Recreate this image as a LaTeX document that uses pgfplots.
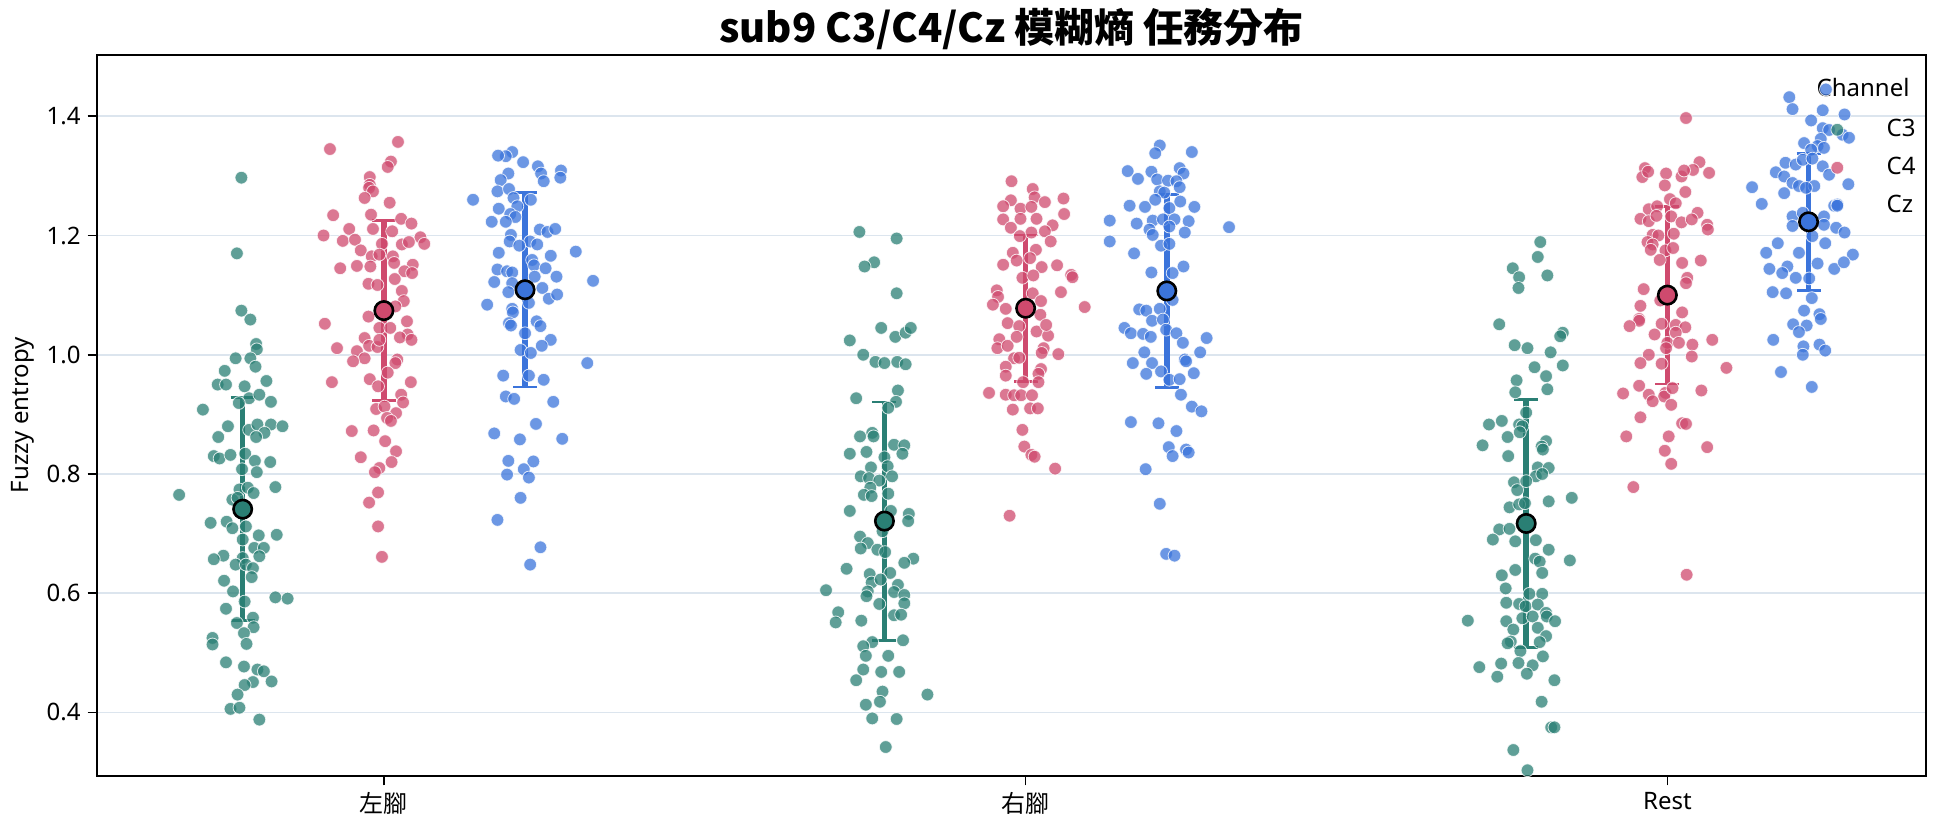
\documentclass[border=0pt]{standalone}
\usepackage{fontspec}
\setmainfont{Noto Sans}
\newfontfamily\cjk{Noto Sans CJK TC}
\usepackage{pgfplots}
\usepackage{pgfplotstable}
\pgfplotsset{compat=1.18}
\definecolor{cthree}{HTML}{2A7F74}
\definecolor{cfour}{HTML}{CF4A6E}
\definecolor{czz}{HTML}{3B74DB}
\definecolor{gridc}{HTML}{DCE5EE}

\pgfplotstableread{
x y
-0.222 1.297
-0.229 1.170
-0.222 1.074
-0.208 1.059
-0.199 1.018
-0.198 1.009
-0.231 0.994
-0.208 0.994
-0.200 0.980
-0.248 0.973
-0.183 0.956
-0.259 0.950
-0.246 0.950
-0.217 0.947
-0.210 0.927
-0.282 0.908
-0.194 0.933
-0.176 0.921
-0.226 0.919
-0.243 0.880
-0.210 0.874
-0.197 0.883
-0.176 0.883
-0.158 0.880
-0.186 0.869
-0.199 0.862
-0.258 0.862
-0.265 0.830
-0.256 0.826
-0.239 0.832
-0.216 0.834
-0.201 0.822
-0.177 0.820
-0.221 0.808
-0.198 0.803
-0.319 0.765
-0.169 0.778
-0.225 0.774
-0.212 0.777
-0.203 0.768
-0.236 0.757
-0.228 0.760
-0.270 0.718
-0.245 0.720
-0.236 0.709
-0.215 0.712
-0.195 0.697
-0.167 0.698
-0.220 0.690
-0.202 0.676
-0.187 0.676
-0.250 0.663
-0.265 0.657
-0.220 0.659
-0.231 0.648
-0.215 0.648
-0.194 0.662
-0.204 0.642
-0.249 0.621
-0.235 0.603
-0.206 0.627
-0.169 0.593
-0.150 0.591
-0.217 0.586
-0.246 0.574
-0.204 0.559
-0.229 0.550
-0.203 0.543
-0.218 0.533
-0.267 0.525
-0.267 0.514
-0.214 0.515
-0.246 0.484
-0.218 0.477
-0.197 0.472
-0.187 0.469
-0.175 0.452
-0.204 0.451
-0.217 0.446
-0.228 0.430
-0.239 0.406
-0.225 0.408
-0.194 0.388
0.741 1.206
0.799 1.195
0.764 1.155
0.749 1.148
0.799 1.103
0.775 1.045
0.797 1.030
0.813 1.037
0.821 1.045
0.726 1.024
0.747 1.000
0.766 0.988
0.780 0.986
0.800 0.988
0.813 0.984
0.736 0.927
0.801 0.940
0.798 0.921
0.786 0.911
0.761 0.869
0.742 0.863
0.763 0.863
0.795 0.849
0.811 0.848
0.726 0.834
0.752 0.837
0.808 0.834
0.780 0.828
0.759 0.811
0.785 0.813
0.743 0.796
0.756 0.793
0.772 0.789
0.792 0.796
0.758 0.777
0.748 0.765
0.760 0.763
0.786 0.767
0.726 0.738
0.790 0.738
0.818 0.733
0.817 0.721
0.777 0.704
0.742 0.695
0.754 0.684
0.743 0.675
0.769 0.673
0.781 0.669
0.825 0.658
0.811 0.651
0.721 0.641
0.757 0.632
0.789 0.634
0.760 0.618
0.774 0.623
0.801 0.614
0.689 0.605
0.754 0.603
0.752 0.595
0.795 0.602
0.811 0.597
0.811 0.583
0.772 0.582
0.708 0.568
0.704 0.551
0.744 0.554
0.795 0.563
0.806 0.564
0.761 0.518
0.809 0.521
0.747 0.511
0.751 0.495
0.786 0.495
0.747 0.472
0.775 0.468
0.803 0.468
0.736 0.454
0.777 0.435
0.847 0.430
0.773 0.418
0.751 0.413
0.761 0.390
0.799 0.389
0.782 0.342
1.802 1.189
1.798 1.164
1.759 1.145
1.769 1.130
1.768 1.112
1.813 1.133
1.738 1.051
1.837 1.037
1.833 1.031
1.762 1.016
1.782 1.011
1.818 1.004
1.793 0.979
1.837 0.982
1.765 0.957
1.811 0.964
1.813 0.942
1.763 0.937
1.780 0.903
1.722 0.883
1.742 0.889
1.769 0.883
1.774 0.880
1.770 0.870
1.712 0.848
1.751 0.862
1.811 0.855
1.804 0.846
1.806 0.841
1.752 0.830
1.798 0.811
1.815 0.810
1.795 0.796
1.805 0.800
1.761 0.786
1.766 0.773
1.780 0.788
1.851 0.760
1.815 0.754
1.754 0.744
1.769 0.749
1.778 0.751
1.738 0.707
1.754 0.708
1.728 0.690
1.763 0.687
1.795 0.689
1.815 0.673
1.794 0.658
1.801 0.653
1.848 0.655
1.763 0.639
1.742 0.630
1.805 0.634
1.748 0.608
1.749 0.584
1.785 0.599
1.805 0.599
1.769 0.582
1.779 0.578
1.798 0.581
1.811 0.567
1.812 0.561
1.689 0.554
1.749 0.553
1.774 0.558
1.790 0.561
1.825 0.553
1.760 0.539
1.798 0.542
1.811 0.528
1.756 0.519
1.751 0.516
1.801 0.518
1.771 0.503
1.806 0.494
1.741 0.482
1.768 0.483
1.790 0.479
1.707 0.476
1.781 0.465
1.735 0.460
1.824 0.454
1.804 0.418
1.819 0.375
1.824 0.375
1.760 0.337
1.782 0.303
}\dataCthree

\pgfplotstableread{
x y
0.022 1.357
-0.084 1.345
0.011 1.324
0.006 1.315
-0.022 1.298
-0.022 1.285
-0.023 1.280
-0.017 1.274
-0.030 1.263
0.009 1.255
-0.079 1.234
-0.020 1.235
0.027 1.228
0.043 1.220
-0.054 1.211
-0.017 1.211
0.013 1.207
-0.094 1.200
-0.064 1.191
-0.045 1.193
0.057 1.197
0.063 1.186
0.028 1.185
0.039 1.189
-0.003 1.186
-0.036 1.175
-0.019 1.165
-0.007 1.168
0.014 1.165
0.016 1.154
-0.068 1.145
-0.042 1.149
-0.021 1.148
0.045 1.151
0.032 1.140
0.044 1.137
0.017 1.127
-0.024 1.119
-0.010 1.117
0.028 1.107
0.031 1.090
0.018 1.081
-0.024 1.064
-0.092 1.052
0.036 1.056
-0.007 1.045
0.010 1.045
0.037 1.034
0.025 1.029
0.043 1.025
-0.030 1.028
-0.023 1.015
-0.010 1.013
-0.007 1.025
-0.073 1.011
-0.042 1.006
-0.030 0.994
-0.048 0.989
0.021 0.992
0.018 0.986
0.006 0.970
-0.022 0.959
-0.081 0.954
-0.009 0.947
0.042 0.954
0.027 0.933
0.030 0.920
-0.012 0.909
0.001 0.913
0.019 0.902
0.005 0.894
0.011 0.889
-0.050 0.872
-0.016 0.873
0.002 0.855
0.019 0.838
-0.036 0.828
0.012 0.820
-0.007 0.810
-0.014 0.803
-0.009 0.769
-0.023 0.752
-0.009 0.712
-0.003 0.661
0.978 1.291
1.011 1.278
0.977 1.259
0.965 1.249
1.014 1.264
1.030 1.256
1.059 1.262
1.060 1.236
0.992 1.245
1.009 1.248
0.965 1.227
0.992 1.228
1.017 1.228
1.042 1.217
0.977 1.213
1.009 1.205
1.030 1.207
0.991 1.199
1.039 1.190
1.016 1.176
0.980 1.171
0.986 1.158
1.007 1.162
0.965 1.151
1.025 1.147
1.049 1.150
1.071 1.134
1.073 1.130
0.995 1.129
1.012 1.133
0.955 1.108
0.957 1.097
1.011 1.103
1.055 1.105
0.949 1.084
0.969 1.077
1.024 1.090
1.092 1.080
1.023 1.067
0.972 1.053
0.990 1.048
1.017 1.039
1.035 1.032
1.032 1.050
0.959 1.026
0.956 1.011
0.972 1.015
0.986 1.030
1.028 1.011
1.025 1.003
1.051 1.001
0.982 0.994
0.990 0.995
0.969 0.980
0.969 0.965
1.024 0.976
1.020 0.968
0.996 0.954
1.020 0.954
0.943 0.936
0.969 0.933
0.982 0.932
0.993 0.932
1.010 0.932
0.980 0.908
1.007 0.910
1.019 0.910
0.995 0.874
0.998 0.846
1.009 0.832
1.014 0.829
1.046 0.809
0.975 0.730
2.029 1.397
2.050 1.323
2.040 1.310
2.065 1.305
1.965 1.313
1.961 1.298
1.970 1.307
1.998 1.304
2.022 1.299
2.026 1.309
1.996 1.284
2.028 1.273
2.004 1.261
2.013 1.254
1.971 1.244
1.984 1.249
2.047 1.238
1.958 1.228
1.971 1.224
1.983 1.233
2.006 1.232
2.022 1.222
2.038 1.227
2.062 1.218
2.063 1.210
1.977 1.201
1.986 1.200
2.010 1.203
1.969 1.189
1.977 1.185
1.974 1.176
1.997 1.175
2.009 1.179
1.988 1.159
2.023 1.154
2.052 1.158
2.031 1.129
2.029 1.120
1.963 1.110
1.989 1.091
1.958 1.082
2.023 1.071
1.956 1.060
1.956 1.057
1.941 1.048
1.991 1.052
2.013 1.050
2.028 1.046
1.980 1.034
2.013 1.037
2.000 1.020
2.018 1.020
2.039 1.017
2.070 1.025
1.998 1.011
1.971 1.000
2.038 0.997
1.958 0.986
1.991 0.985
2.092 0.978
1.956 0.948
1.931 0.935
1.971 0.933
1.997 0.936
1.995 0.930
2.008 0.944
2.053 0.940
1.977 0.922
2.006 0.916
1.958 0.895
2.023 0.885
2.029 0.884
1.936 0.863
2.002 0.863
2.062 0.845
1.996 0.839
2.006 0.817
1.947 0.778
2.030 0.631
}\dataCfour

\pgfplotstableread{
x y
0.200 1.340
0.190 1.333
0.178 1.334
0.217 1.323
0.240 1.316
0.245 1.304
0.249 1.291
0.276 1.309
0.275 1.297
0.194 1.304
0.182 1.293
0.177 1.274
0.195 1.278
0.139 1.260
0.202 1.263
0.208 1.249
0.229 1.260
0.179 1.245
0.197 1.236
0.205 1.231
0.168 1.223
0.190 1.223
0.198 1.201
0.243 1.210
0.255 1.206
0.267 1.211
0.228 1.190
0.239 1.185
0.196 1.190
0.211 1.183
0.299 1.173
0.179 1.171
0.260 1.166
0.231 1.159
0.177 1.143
0.192 1.140
0.200 1.138
0.234 1.150
0.252 1.145
0.235 1.131
0.269 1.131
0.326 1.124
0.172 1.122
0.200 1.120
0.247 1.112
0.194 1.105
0.257 1.094
0.270 1.101
0.161 1.084
0.226 1.087
0.200 1.077
0.201 1.071
0.195 1.053
0.198 1.049
0.238 1.056
0.244 1.048
0.220 1.036
0.260 1.025
0.246 1.015
0.213 1.008
0.229 1.003
0.317 0.986
0.186 0.965
0.226 0.965
0.249 0.958
0.190 0.930
0.203 0.926
0.264 0.921
0.237 0.884
0.172 0.868
0.212 0.858
0.278 0.859
0.194 0.822
0.233 0.821
0.218 0.808
0.192 0.799
0.226 0.794
0.213 0.760
0.177 0.723
0.244 0.677
0.228 0.648
1.209 1.351
1.202 1.338
1.259 1.340
1.159 1.308
1.175 1.295
1.196 1.307
1.205 1.294
1.222 1.292
1.240 1.313
1.246 1.304
1.235 1.291
1.240 1.281
1.209 1.274
1.216 1.272
1.263 1.248
1.162 1.250
1.186 1.248
1.202 1.260
1.224 1.246
1.241 1.257
1.131 1.225
1.131 1.190
1.173 1.220
1.198 1.225
1.214 1.227
1.232 1.227
1.254 1.224
1.317 1.214
1.193 1.210
1.198 1.201
1.224 1.215
1.248 1.205
1.211 1.183
1.224 1.186
1.169 1.170
1.246 1.148
1.229 1.137
1.196 1.138
1.229 1.092
1.177 1.076
1.188 1.074
1.209 1.077
1.197 1.057
1.214 1.059
1.154 1.045
1.164 1.036
1.183 1.035
1.195 1.030
1.219 1.042
1.235 1.036
1.282 1.028
1.245 1.020
1.185 1.004
1.272 1.004
1.167 0.986
1.197 0.986
1.248 0.992
1.250 0.989
1.188 0.968
1.211 0.972
1.262 0.969
1.224 0.958
1.240 0.959
1.242 0.933
1.259 0.913
1.274 0.905
1.164 0.887
1.207 0.885
1.235 0.872
1.223 0.845
1.229 0.830
1.250 0.841
1.254 0.836
1.187 0.808
1.209 0.750
1.219 0.666
1.232 0.663
2.247 1.445
2.190 1.432
2.195 1.412
2.242 1.410
2.276 1.403
2.224 1.393
2.242 1.380
2.252 1.377
2.273 1.369
2.283 1.364
2.239 1.362
2.234 1.350
2.213 1.355
2.224 1.344
2.244 1.347
2.184 1.322
2.200 1.319
2.211 1.327
2.226 1.329
2.242 1.316
2.169 1.306
2.182 1.299
2.252 1.302
2.195 1.288
2.205 1.283
2.229 1.283
2.216 1.280
2.282 1.286
2.132 1.281
2.182 1.271
2.147 1.253
2.260 1.250
2.265 1.252
2.195 1.232
2.211 1.238
2.244 1.232
2.244 1.218
2.263 1.213
2.276 1.205
2.195 1.216
2.226 1.199
2.246 1.187
2.172 1.187
2.154 1.171
2.205 1.171
2.289 1.168
2.159 1.144
2.187 1.148
2.179 1.137
2.200 1.129
2.221 1.128
2.234 1.153
2.260 1.144
2.275 1.155
2.164 1.105
2.185 1.103
2.225 1.095
2.213 1.074
2.237 1.068
2.239 1.060
2.196 1.051
2.217 1.049
2.205 1.038
2.165 1.025
2.212 1.014
2.237 1.017
2.246 1.007
2.211 1.000
2.177 0.971
2.225 0.946
}\dataCz

\pgfplotstableread{
x y e
-0.22 0.741 0.187
0.78 0.721 0.200
1.78 0.717 0.208
}\meanCthree
\pgfplotstableread{
x y e
0 1.074 0.151
1 1.078 0.123
2 1.100 0.149
}\meanCfour
\pgfplotstableread{
x y e
0.22 1.109 0.163
1.22 1.107 0.162
2.22 1.223 0.115
}\meanCz

\begin{document}
\begin{tikzpicture}
\begin{axis}[
  scale only axis, width=914.5pt, height=360.75pt,
  xmin=-0.447, xmax=2.403, ymin=0.2934, ymax=1.5036,
  xtick={0,1,2}, xticklabels={{\cjk 左腳},{\cjk 右腳},Rest},
  ytick={0.4,0.6,0.8,1.0,1.2,1.4},
  yticklabel style={/pgf/number format/fixed,/pgf/number format/fixed zerofill,/pgf/number format/precision=1},
  /pgf/number format/assume math mode=true,
  tick label style={font=\fontsize{12}{14}\selectfont},
  tick align=outside, tick pos=left, major tick length=4.7pt,
  tick style={black, line width=0.8pt},
  axis line style={black, line width=1pt},
  ymajorgrids, grid style={gridc, line width=0.9pt},
  ylabel={Fuzzy entropy},
  ylabel style={at={(axis description cs:-0.0407,0.5)}, anchor=center, font=\fontsize{12}{14}\selectfont},
  title={{\cjk\bfseries sub9 C3/C4/Cz 模糊熵 任務分布}},
  title style={at={(0.5,1)}, anchor=center, yshift=7pt, font=\fontsize{20}{24}\selectfont},
  legend image code/.code={\draw[#1] plot coordinates {(0pt,0pt)};},
  legend cell align=left,
  legend style={at={(axis description cs:1,0.9215)}, anchor=north east, draw=none, fill=none,
    font=\fontsize{12}{14}\selectfont, row sep=4.8pt,
    /tikz/every odd column/.append style={column sep=19.5pt}},
]
\addplot[only marks, mark=*, mark size=3.2pt, mark options={fill=cthree, fill opacity=0.75, draw=white, draw opacity=0.8, line width=0.4pt}] table[x=x,y=y] {\dataCthree};
\addlegendentry{C3}
\addplot[only marks, mark=*, mark size=3.2pt, mark options={fill=cfour, fill opacity=0.75, draw=white, draw opacity=0.8, line width=0.4pt}] table[x=x,y=y] {\dataCfour};
\addlegendentry{C4}
\addplot[only marks, mark=*, mark size=3.2pt, mark options={fill=czz, fill opacity=0.75, draw=white, draw opacity=0.8, line width=0.4pt}] table[x=x,y=y] {\dataCz};
\addlegendentry{Cz}

\addplot[forget plot, only marks, mark=none, error bars/.cd, y dir=both, y explicit,
  error bar style={line width=2.8pt, cthree}, error mark options={rotate=90, line width=1.3pt, mark size=6pt, cthree}]
  table[x=x,y=y,y error=e] {\meanCthree};
\addplot[forget plot, only marks, mark=none, error bars/.cd, y dir=both, y explicit,
  error bar style={line width=2.8pt, cfour}, error mark options={rotate=90, line width=1.3pt, mark size=6pt, cfour}]
  table[x=x,y=y,y error=e] {\meanCfour};
\addplot[forget plot, only marks, mark=none, error bars/.cd, y dir=both, y explicit,
  error bar style={line width=2.8pt, czz}, error mark options={rotate=90, line width=1.3pt, mark size=6pt, czz}]
  table[x=x,y=y,y error=e] {\meanCz};

\addplot[forget plot, only marks, mark=*, mark size=4.6pt, mark options={fill=cthree, draw=black, line width=1.3pt}] table[x=x,y=y] {\meanCthree};
\addplot[forget plot, only marks, mark=*, mark size=4.6pt, mark options={fill=cfour, draw=black, line width=1.3pt}] table[x=x,y=y] {\meanCfour};
\addplot[forget plot, only marks, mark=*, mark size=4.6pt, mark options={fill=czz, draw=black, line width=1.3pt}] table[x=x,y=y] {\meanCz};

\node[font=\fontsize{12}{14}\selectfont, anchor=center] at (axis description cs:0.9656,0.9536) {Channel};
\end{axis}
\pgfresetboundingbox
\path[use as bounding box] ([shift={(-48.5pt,-25.5pt)}]current axis.south west) rectangle ([shift={(9pt,27.25pt)}]current axis.north east);
\end{tikzpicture}
\end{document}
